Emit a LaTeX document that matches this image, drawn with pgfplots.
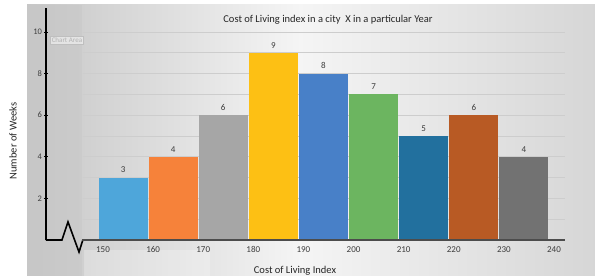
\documentclass[border=0pt]{standalone}
\usepackage{pgfplots}
\pgfplotsset{compat=1.18}
\usepackage{fontspec}
\setmainfont{Carlito}
\definecolor{c150}{RGB}{78,166,218}
\definecolor{c160}{RGB}{246,130,58}
\definecolor{c170}{RGB}{166,166,166}
\definecolor{c180}{RGB}{253,192,20}
\definecolor{c190}{RGB}{72,128,200}
\definecolor{c200}{RGB}{108,181,96}
\definecolor{c210}{RGB}{34,112,158}
\definecolor{c220}{RGB}{184,90,36}
\definecolor{c230}{RGB}{114,114,114}
\definecolor{gridc}{RGB}{205,205,205}
\definecolor{txt}{RGB}{60,60,60}
\begin{document}
\begin{tikzpicture}[x=1pt,y=1pt]
\useasboundingbox (0,0) rectangle (595,280);
\fill[white] (0,0) rectangle (595,280);
\shade[left color=black!22, right color=black!4] (27,4) rectangle (300,275);
\shade[left color=black!4, right color=black!16] (300,4) rectangle (595,275);
\fill[black!22,opacity=0.5] (27,4) rectangle (82,275);
\fill[white,opacity=0.25] (84,4) rectangle (210,30);
\begin{axis}[
  at={(46pt,40pt)}, anchor=south west,
  scale only axis, width=519pt, height=232pt,
  xmin=139.62, xmax=243.2, ymin=0, ymax=11.15,
  clip=false,
  /pgf/number format/assume math mode=true,
  axis x line=none,
  axis y line*=left,
  y axis line style={line width=1.6pt, black, -},
  ytick={2,4,6,8,10},
  yticklabel style={font=\fontsize{8.5}{9}\selectfont, text=black!75, xshift=1.5pt},
  ytick style={black, line width=0.6pt},
  tick align=center, major tick length=4pt,
  ybar, bar width=9.8, bar shift=0pt,
  nodes near coords,
  every node near coord/.append style={font=\fontsize{9}{10}\selectfont, text=txt, yshift=1pt},
]
\pgfplotsinvokeforeach{1,...,10}{
  \draw[gridc, line width=0.6pt] (axis cs:147.0,#1) -- (axis cs:243.2,#1);
}
\addplot[fill=c150, draw=none] coordinates {(155,3)};
\addplot[fill=c160, draw=none] coordinates {(165,4)};
\addplot[fill=c170, draw=none] coordinates {(175,6)};
\addplot[fill=c180, draw=none] coordinates {(185,9)};
\addplot[fill=c190, draw=none] coordinates {(195,8)};
\addplot[fill=c200, draw=none] coordinates {(205,7)};
\addplot[fill=c210, draw=none] coordinates {(215,5)};
\addplot[fill=c220, draw=none] coordinates {(225,6)};
\addplot[fill=c230, draw=none] coordinates {(235,4)};
% broken x axis
\draw[black, line width=1.6pt, line join=miter] (axis cs:139.62,0) -- (axis cs:142.81,0) -- (axis cs:144.01,0.87) -- (axis cs:146.21,-0.58) -- (axis cs:147.0,0.02);
\draw[black!70, line width=1.2pt] (axis cs:146.8,0) -- (axis cs:243.2,0);
% x tick labels
\pgfplotsinvokeforeach{150,160,...,240}{
  \node[font=\fontsize{9}{10}\selectfont, text=txt, anchor=north] at (axis cs:#1+1,-0.15) {#1};
}
\node[draw=black!25, fill=white, fill opacity=0.5, text opacity=1, font=\fontsize{7}{8}\selectfont, text=black!30, inner sep=1.2pt] at (axis cs:143.8,9.6) {Chart Area};
\end{axis}
\node[font=\fontsize{10.5}{12}\selectfont, text=black!85] at (328,260) {Cost of Living index in a city\ \ X in a particular Year};
\node[font=\fontsize{10.5}{12}\selectfont, text=black!85, rotate=90] at (13,139) {Number of Weeks};
\node[font=\fontsize{10.5}{12}\selectfont, text=black!85] at (295,9) {Cost of Living Index};
\end{tikzpicture}
\end{document}
